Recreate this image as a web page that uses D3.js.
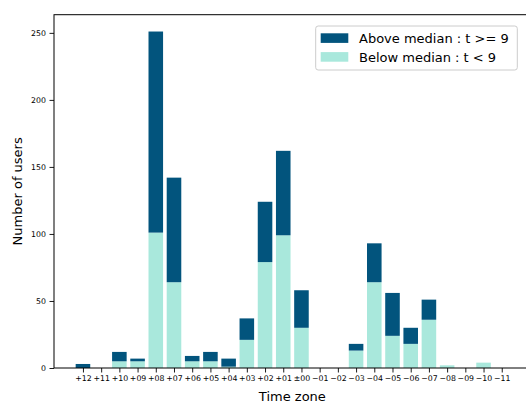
<!DOCTYPE html>
<html>
<head>
    <meta charset='utf-8' />
    <script src="https://d3js.org/d3.v7.min.js"></script>
    <style>
        body { margin: 0; background: #fff; font-family: "DejaVu Sans", sans-serif; }
        .axis text { fill: #000; font-size: 7.8px; font-family: "DejaVu Sans", sans-serif; }
        .axis path, .axis line { stroke: #000; stroke-width: 0.9; }
        .label { font-size: 13px; fill: #000; }
    </style>
</head>
<body>
<div id="graphic"></div>
<script>
    var zones = ["+12", "+11", "+10", "+09", "+08", "+07", "+06", "+05", "+04", "+03", "+02", "+01",
                 "\u00b100", "\u221201", "\u221202", "\u221203", "\u221204", "\u221205", "\u221206",
                 "\u221207", "\u221208", "\u221209", "\u221210", "\u221211"];
    var below = [0, 0, 5, 5, 101, 64, 5, 5, 1, 21, 79, 99, 30, 0, 0, 13, 64, 24, 18, 36, 2, 0, 4, 0];
    var above = [3, 0, 7, 2, 150, 78, 4, 7, 6, 16, 45, 63, 28, 0, 0, 5, 29, 32, 12, 15, 0, 0, 0, 0];
    var yTicks = [0, 50, 100, 150, 200, 250];
    var seriesNames = ["Above median : t >= 9", "Below median : t < 9"];

    var darkColor = "#02547d", lightColor = "#a9e8dc";

    var W = 526, H = 401;
    var plot = { left: 54, right: 530.7, top: 14.7, bottom: 368 };

    var svg = d3.select("#graphic").append("svg")
        .attr("width", W)
        .attr("height", H);

    var x = d3.scaleLinear()
        .domain([-1.59, zones.length - 1 + 1.59])
        .range([plot.left, plot.right]);

    var maxTotal = d3.max(zones, function (d, i) { return below[i] + above[i]; });
    var y = d3.scaleLinear()
        .domain([0, maxTotal * 1.05])
        .range([plot.bottom, plot.top]);

    var bw = 0.8;

    // below median (bottom of stack)
    svg.selectAll(".below")
        .data(zones)
        .enter().append("rect")
        .attr("class", "below")
        .attr("x", function (d, i) { return x(i - bw / 2); })
        .attr("width", x(bw) - x(0))
        .attr("y", function (d, i) { return y(below[i]); })
        .attr("height", function (d, i) { return y(0) - y(below[i]); })
        .attr("fill", lightColor);

    // above median stacked on top
    svg.selectAll(".above")
        .data(zones)
        .enter().append("rect")
        .attr("class", "above")
        .attr("x", function (d, i) { return x(i - bw / 2); })
        .attr("width", x(bw) - x(0))
        .attr("y", function (d, i) { return y(below[i] + above[i]); })
        .attr("height", function (d, i) { return y(below[i]) - y(below[i] + above[i]); })
        .attr("fill", darkColor);

    var xAxis = d3.axisBottom(x)
        .tickValues(d3.range(zones.length))
        .tickFormat(function (i) { return zones[i]; })
        .tickSize(4.5)
        .tickPadding(3);

    var gx = svg.append("g")
        .attr("class", "x axis")
        .attr("transform", "translate(0," + plot.bottom + ")")
        .call(xAxis);
    gx.select(".domain").remove();

    var yAxis = d3.axisLeft(y)
        .tickValues(yTicks)
        .tickSize(4.5)
        .tickPadding(3.5);

    var gy = svg.append("g")
        .attr("class", "y axis")
        .attr("transform", "translate(" + plot.left + ",0)")
        .call(yAxis);
    gy.select(".domain").remove();

    // frame (right spine falls outside the picture)
    svg.append("rect")
        .attr("x", plot.left)
        .attr("y", plot.top)
        .attr("width", plot.right - plot.left)
        .attr("height", plot.bottom - plot.top)
        .attr("fill", "none")
        .attr("stroke", "#000")
        .attr("stroke-width", 1);

    svg.append("text")
        .attr("class", "label")
        .attr("x", (plot.left + plot.right) / 2)
        .attr("y", 400.5)
        .attr("text-anchor", "middle")
        .text("Time zone");

    svg.append("text")
        .attr("class", "label")
        .attr("transform", "translate(22," + (plot.top + plot.bottom) / 2 + ") rotate(-90)")
        .attr("text-anchor", "middle")
        .text("Number of users");

    // legend
    var lg = svg.append("g").attr("transform", "translate(315.7,26)");
    lg.append("rect")
        .attr("width", 201.6)
        .attr("height", 44)
        .attr("rx", 2.5)
        .attr("fill", "#fff")
        .attr("fill-opacity", 0.8)
        .attr("stroke", "#cccccc")
        .attr("stroke-width", 1);

    var items = lg.selectAll(".item")
        .data(seriesNames)
        .enter().append("g")
        .attr("transform", function (d, i) { return "translate(5," + (7.3 + i * 18.8) + ")"; });

    items.append("rect")
        .attr("width", 27.6)
        .attr("height", 9.6)
        .attr("fill", function (d, i) { return i === 0 ? darkColor : lightColor; });

    items.append("text")
        .attr("class", "label")
        .attr("x", 38.3)
        .attr("y", 9.6)
        .text(function (d) { return d; });
</script>
</body>
</html>
